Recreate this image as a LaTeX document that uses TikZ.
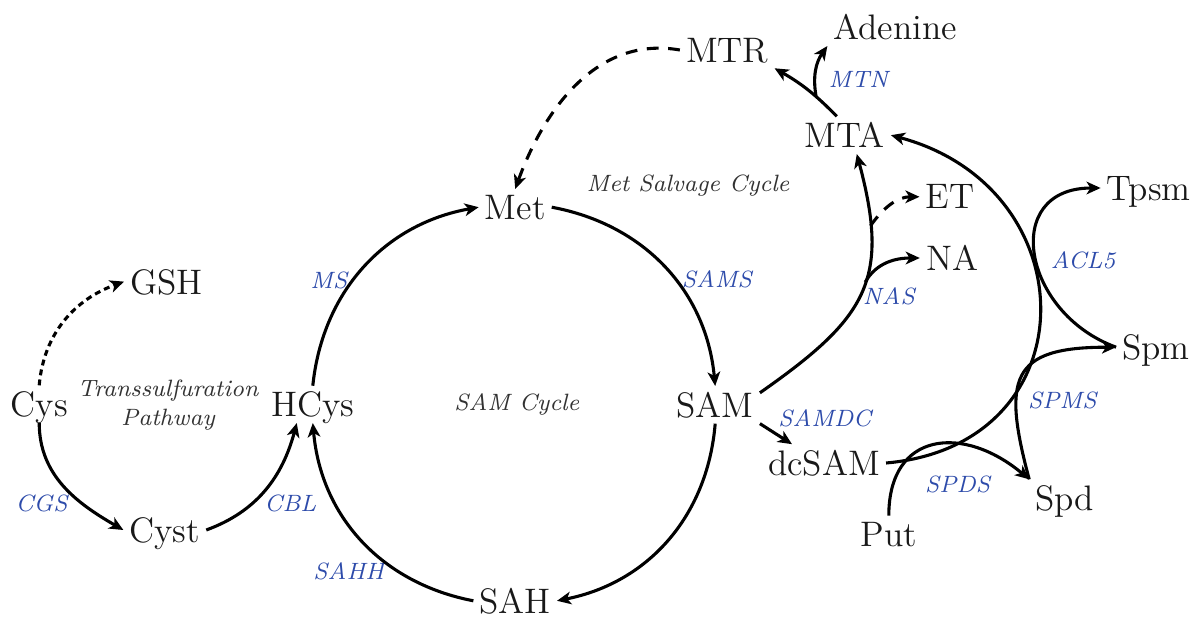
\documentclass[tikz,border=0pt]{standalone}
\usepackage{tikz}
\usepackage{xcolor}
\usetikzlibrary{arrows}
\usetikzlibrary{arrows.meta}
\definecolor{enzblue}{RGB}{45,75,170}
\definecolor{notegray}{RGB}{50,50,50}

\begin{document}
\begin{tikzpicture}[line join=round,>={Stealth[length=5pt,width=4.5pt,inset=1.4pt]},x=1cm,y=1cm,
        cpd/.style={inner sep=2pt,text depth=0pt,font=\fontsize{12.6}{15}\selectfont,text=black!90},
        enz/.style={inner sep=1pt,font=\fontsize{8.4}{10}\selectfont\itshape,text=enzblue},
        note/.style={inner sep=1pt,font=\fontsize{8.4}{10.3}\selectfont\itshape,text=notegray,align=center},
        rxn/.style={line width=1.1pt,->},
        sidedash/.style={dash pattern=on 4.2pt off 3.4pt},
        shortdash/.style={dash pattern=on 2.1pt off 1.5pt}]
                \useasboundingbox (0,0) rectangle (14.9125,7.7);
                \node[cpd] (Met) at (6.44,5.11) {Met};
                \node[cpd] (SAM) at (8.94,2.64) {SAM};
                \node[cpd] (SAH) at (6.44,0.19) {SAH};
                \node[cpd] (HCys) at (3.91,2.645) {HCys};
                \node[cpd] (Cys) at (0.49,2.65) {Cys};
                \node[cpd] (Cyst) at (2.06,1.075) {Cyst};
                \node[cpd] (GSH) at (2.08,4.18) {GSH};
                \node[cpd] (MTR) at (9.09,7.075) {MTR};
                \node[cpd] (Adenine) at (11.19,7.36) {Adenine};
                \node[cpd] (MTA) at (10.56,6.01) {MTA};
                \node[cpd] (ET) at (11.875,5.24) {ET};
                \node[cpd] (NA) at (11.9,4.475) {NA};
                \node[cpd] (Tpsm) at (14.36,5.35) {Tpsm};
                \node[cpd] (Spm) at (14.45,3.36) {Spm};
                \node[cpd] (dcSAM) at (10.3,1.9125) {dcSAM};
                \node[cpd] (Spd) at (13.31,1.475) {Spd};
                \node[cpd] (Put) at (11.11,1.025) {Put};
                \node[enz] (ms) at (4.11,4.2) {MS};
                \node[enz] (sams) at (8.96,4.21) {SAMS};
                \node[enz] (samdc) at (10.31,2.475) {SAMDC};
                \node[enz] (sahh) at (4.36,0.56) {SAHH};
                \node[enz] (cbl) at (3.63,1.41) {CBL};
                \node[enz] (cgs) at (0.52,1.41) {CGS};
                \node[enz] (mtn) at (10.73,6.71) {MTN};
                \node[enz] (nas) at (11.11,4.0) {NAS};
                \node[enz] (acl) at (13.54,4.45) {ACL5};
                \node[enz] (spms) at (13.28,2.7) {SPMS};
                \node[enz] (spds) at (11.97,1.65) {SPDS};
                \node[note] (salvage) at (8.6,5.375) {Met Salvage Cycle};
                \node[note] (trans) at (2.1,2.64) {Transsulfuration\\Pathway};
                \node[note] (samcycle) at (6.46,2.64) {SAM Cycle};
                \draw [rxn] (HCys.north) to[bend left=37] (Met.west);
                \draw [rxn] (Met.east) to[bend left=37] (SAM.north);
                \draw [rxn] (SAM.south) to[bend left=37] (SAH.east);
                \draw [rxn] (SAH.west) to[bend left=37] (HCys.south);
                \draw [rxn] (Cys.south) to[out=-90,in=150] (Cyst.west);
                \draw [rxn] (Cyst.east) to[out=20,in=-105] ([xshift=-2mm]HCys.south);
                \draw [rxn,shortdash] (Cys.north) to[out=85,in=200] (GSH.west);
                \draw [rxn] (SAM.15) to[out=35,in=-75,looseness=1.3] coordinate[pos=0.55] (nabr) coordinate[pos=0.78] (etbr) ([xshift=1.5mm]MTA.south);
                \draw [rxn] (nabr) to[out=60,in=180] (NA.west);
                \draw [rxn,sidedash] (etbr) to[out=55,in=180] (ET.west);
                \draw [rxn] ([xshift=-1mm]MTA.north) to[bend right=8] coordinate[pos=0.35] (mtnbr) (MTR.south east);
                \draw [rxn] (mtnbr) to[out=100,in=235] (Adenine.south west);
                \draw [rxn,sidedash] (MTR.west) to[out=170,in=70] (Met.north);
                \draw [rxn] (SAM.south east) -- ([xshift=-4mm]dcSAM.north);
                \draw [rxn] (dcSAM.east) to[out=5,in=-15,looseness=1.6] (MTA.east);
                \draw [rxn] (Put.north) to[out=90,in=140,looseness=1.5] (Spd.north west);
                \draw [rxn] (Spd.north west) to[out=105,in=180,looseness=1.7] (Spm.west);
                \draw [rxn] (Spm.west) to[out=160,in=180,looseness=1.6] (Tpsm.west);
\end{tikzpicture}
\end{document}
